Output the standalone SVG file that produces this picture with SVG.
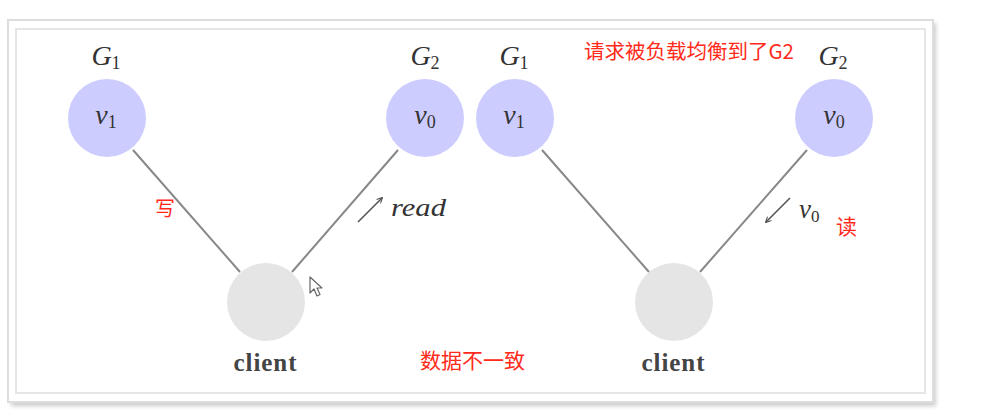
<svg xmlns="http://www.w3.org/2000/svg" width="988" height="419" viewBox="0 0 988 419">
<defs>
<marker id="ah" viewBox="0 0 10 10" refX="8" refY="5" markerWidth="7" markerHeight="7" orient="auto-start-reverse" markerUnits="userSpaceOnUse">
<path d="M1,1 L9,5 L1,9" fill="none" stroke="#555" stroke-width="1.6"/>
</marker>
<filter id="sh" x="-5%" y="-5%" width="110%" height="115%">
<feGaussianBlur stdDeviation="2"/>
</filter>
</defs>
<style>
.server{fill:#ccccff}
.client{fill:#e5e5e5}
.edge{stroke:#888;stroke-width:2;fill:none}
.math{font-family:"Liberation Serif","DejaVu Serif",serif;font-style:italic;fill:#333}
.rm{font-family:"Liberation Serif","DejaVu Serif",serif;fill:#444;font-weight:bold}
.cn{font-family:"Noto Sans CJK SC",sans-serif;fill:#ff2a1a}
</style>
<rect x="0" y="0" width="988" height="419" fill="#fff"/>
<g id="frame">
<rect x="11" y="23" width="925" height="383" fill="#ccc" filter="url(#sh)"/>
<rect x="8" y="20" width="925" height="382" fill="#fff" stroke="#ddd" stroke-width="2"/>
<rect x="16" y="29" width="909" height="364" fill="#fff" stroke="#e6e6e6" stroke-width="2"/>
</g>
<g id="connectors">
<line class="edge" x1="133" y1="150" x2="240" y2="272"/>
<line class="edge" x1="398" y1="150" x2="292" y2="272"/>
<line class="edge" x1="542" y1="150" x2="649" y2="272"/>
<line class="edge" x1="807" y1="150" x2="700" y2="272"/>
<line x1="358" y1="222" x2="382" y2="198" stroke="#555" stroke-width="1.6" marker-end="url(#ah)"/>
<line x1="790" y1="198" x2="766" y2="222" stroke="#555" stroke-width="1.6" marker-end="url(#ah)"/>
</g>
<g id="g1-left">
<circle class="server" cx="107" cy="118" r="39"/>
<text class="math" x="106" y="124" font-size="28" text-anchor="middle">v<tspan font-size="18" font-style="normal" dy="4">1</tspan></text>
<text class="math" x="106" y="65" font-size="28" text-anchor="middle">G<tspan font-size="18" font-style="normal" dy="4">1</tspan></text>
</g>
<g id="g2-left">
<circle class="server" cx="425" cy="118" r="39"/>
<text class="math" x="425" y="124" font-size="28" text-anchor="middle">v<tspan font-size="18" font-style="normal" dy="4">0</tspan></text>
<text class="math" x="425" y="65" font-size="28" text-anchor="middle">G<tspan font-size="18" font-style="normal" dy="4">2</tspan></text>
</g>
<g id="client-left">
<circle class="client" cx="266" cy="302" r="39"/>
<text class="rm" x="265" y="371" font-size="25" text-anchor="middle" textLength="63">client</text>
</g>
<g id="g1-right">
<circle class="server" cx="515" cy="118" r="39"/>
<text class="math" x="514" y="124" font-size="28" text-anchor="middle">v<tspan font-size="18" font-style="normal" dy="4">1</tspan></text>
<text class="math" x="514" y="65" font-size="28" text-anchor="middle">G<tspan font-size="18" font-style="normal" dy="4">1</tspan></text>
</g>
<g id="client-right">
<circle class="client" cx="674" cy="302" r="39"/>
<text class="rm" x="673" y="371" font-size="25" text-anchor="middle" textLength="63">client</text>
</g>
<g id="g2-right">
<circle class="server" cx="834" cy="118" r="39"/>
<text class="math" x="834" y="124" font-size="28" text-anchor="middle">v<tspan font-size="18" font-style="normal" dy="4">0</tspan></text>
<text class="math" x="833" y="65" font-size="28" text-anchor="middle">G<tspan font-size="18" font-style="normal" dy="4">2</tspan></text>
</g>
<g id="labels">
<text class="math" x="391" y="216" font-size="26" textLength="55" lengthAdjust="spacingAndGlyphs">read</text>
<text class="math" x="799" y="218" font-size="27">v<tspan font-size="17" font-style="normal" dy="4">0</tspan></text>
<text class="cn" x="155" y="216" font-size="20">写</text>
<text class="cn" x="836" y="234" font-size="21">读</text>
<text class="cn" x="420" y="368" font-size="21">数据不一致</text>
<text class="cn" x="584" y="59" font-size="20.5">请求被负载均衡到了G2</text>
</g>
<g id="cursor">
<path d="M310,277 L310,293 L314,289 L317,296 L320,294.5 L317,288 L322,288 Z" fill="#fff" stroke="#666" stroke-width="1.2" stroke-linejoin="round"/>
</g>
</svg>
